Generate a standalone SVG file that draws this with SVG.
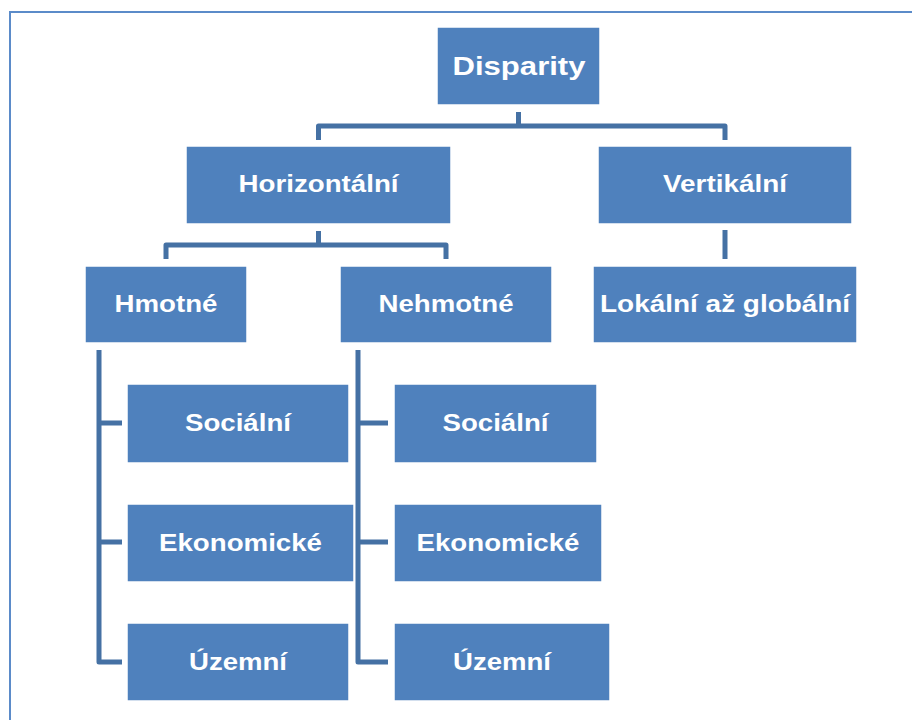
<svg xmlns="http://www.w3.org/2000/svg" width="912" height="720" viewBox="0 0 912 720">
<style>
.box{fill:#4F81BD;stroke:#ffffff;stroke-width:1.5}
.lbl{font-family:"Liberation Sans",Arial,sans-serif;font-weight:bold;font-size:24.5px;fill:#ffffff;text-anchor:middle}
.big{font-size:26.5px}
.con{fill:none;stroke:#4571A4;stroke-width:5;stroke-linejoin:round}
</style>
<rect x="0" y="0" width="912" height="720" fill="#ffffff"/>
<rect x="10" y="12" width="930" height="730" fill="none" stroke="#5B8BC9" stroke-width="2"/>
<g id="connectors">
<path class="con" d="M518.5,112 V126 M318.5,140 V126 H725 V140"/>
<path class="con" d="M318.5,231 V245 M166,259 V245 H446 V259"/>
<path class="con" d="M725,230 V259"/>
<path class="con" d="M99,350 V662 H122 M99,423 H122 M99,542 H122"/>
<path class="con" d="M358,350 V662 H388 M358,423 H388 M358,542 H388"/>
</g>
<g id="n-disparity"><rect class="box" x="437" y="27" width="163" height="78"/><text class="lbl big" x="519" y="75" textLength="133" lengthAdjust="spacingAndGlyphs">Disparity</text></g>
<g id="n-horizontalni"><rect class="box" x="186" y="146" width="265" height="78"/><text class="lbl" x="318.5" y="192" textLength="160" lengthAdjust="spacingAndGlyphs">Horizontální</text></g>
<g id="n-vertikalni"><rect class="box" x="598" y="146" width="254" height="78"/><text class="lbl" x="725" y="192" textLength="124" lengthAdjust="spacingAndGlyphs">Vertikální</text></g>
<g id="n-hmotne"><rect class="box" x="85" y="266" width="162" height="77"/><text class="lbl" x="166" y="311.5" textLength="103" lengthAdjust="spacingAndGlyphs">Hmotné</text></g>
<g id="n-nehmotne"><rect class="box" x="340" y="266" width="212" height="77"/><text class="lbl" x="446" y="311.5" textLength="135" lengthAdjust="spacingAndGlyphs">Nehmotné</text></g>
<g id="n-lokalni"><rect class="box" x="593" y="266" width="264" height="77"/><text class="lbl" x="725" y="311.5" textLength="250" lengthAdjust="spacingAndGlyphs">Lokální až globální</text></g>
<g id="n-h-socialni"><rect class="box" x="127" y="384" width="222" height="79"/><text class="lbl" x="238" y="431" textLength="106" lengthAdjust="spacingAndGlyphs">Sociální</text></g>
<g id="n-h-ekonomicke"><rect class="box" x="127" y="504" width="227" height="78"/><text class="lbl" x="240.5" y="550.5" textLength="163" lengthAdjust="spacingAndGlyphs">Ekonomické</text></g>
<g id="n-h-uzemni"><rect class="box" x="127" y="623" width="222" height="78"/><text class="lbl" x="238" y="669.5" textLength="98" lengthAdjust="spacingAndGlyphs">Územní</text></g>
<g id="n-n-socialni"><rect class="box" x="394" y="384" width="203" height="79"/><text class="lbl" x="495.5" y="431" textLength="106" lengthAdjust="spacingAndGlyphs">Sociální</text></g>
<g id="n-n-ekonomicke"><rect class="box" x="394" y="504" width="208" height="78"/><text class="lbl" x="498" y="550.5" textLength="163" lengthAdjust="spacingAndGlyphs">Ekonomické</text></g>
<g id="n-n-uzemni"><rect class="box" x="394" y="623" width="216" height="78"/><text class="lbl" x="502" y="669.5" textLength="98" lengthAdjust="spacingAndGlyphs">Územní</text></g>
</svg>
